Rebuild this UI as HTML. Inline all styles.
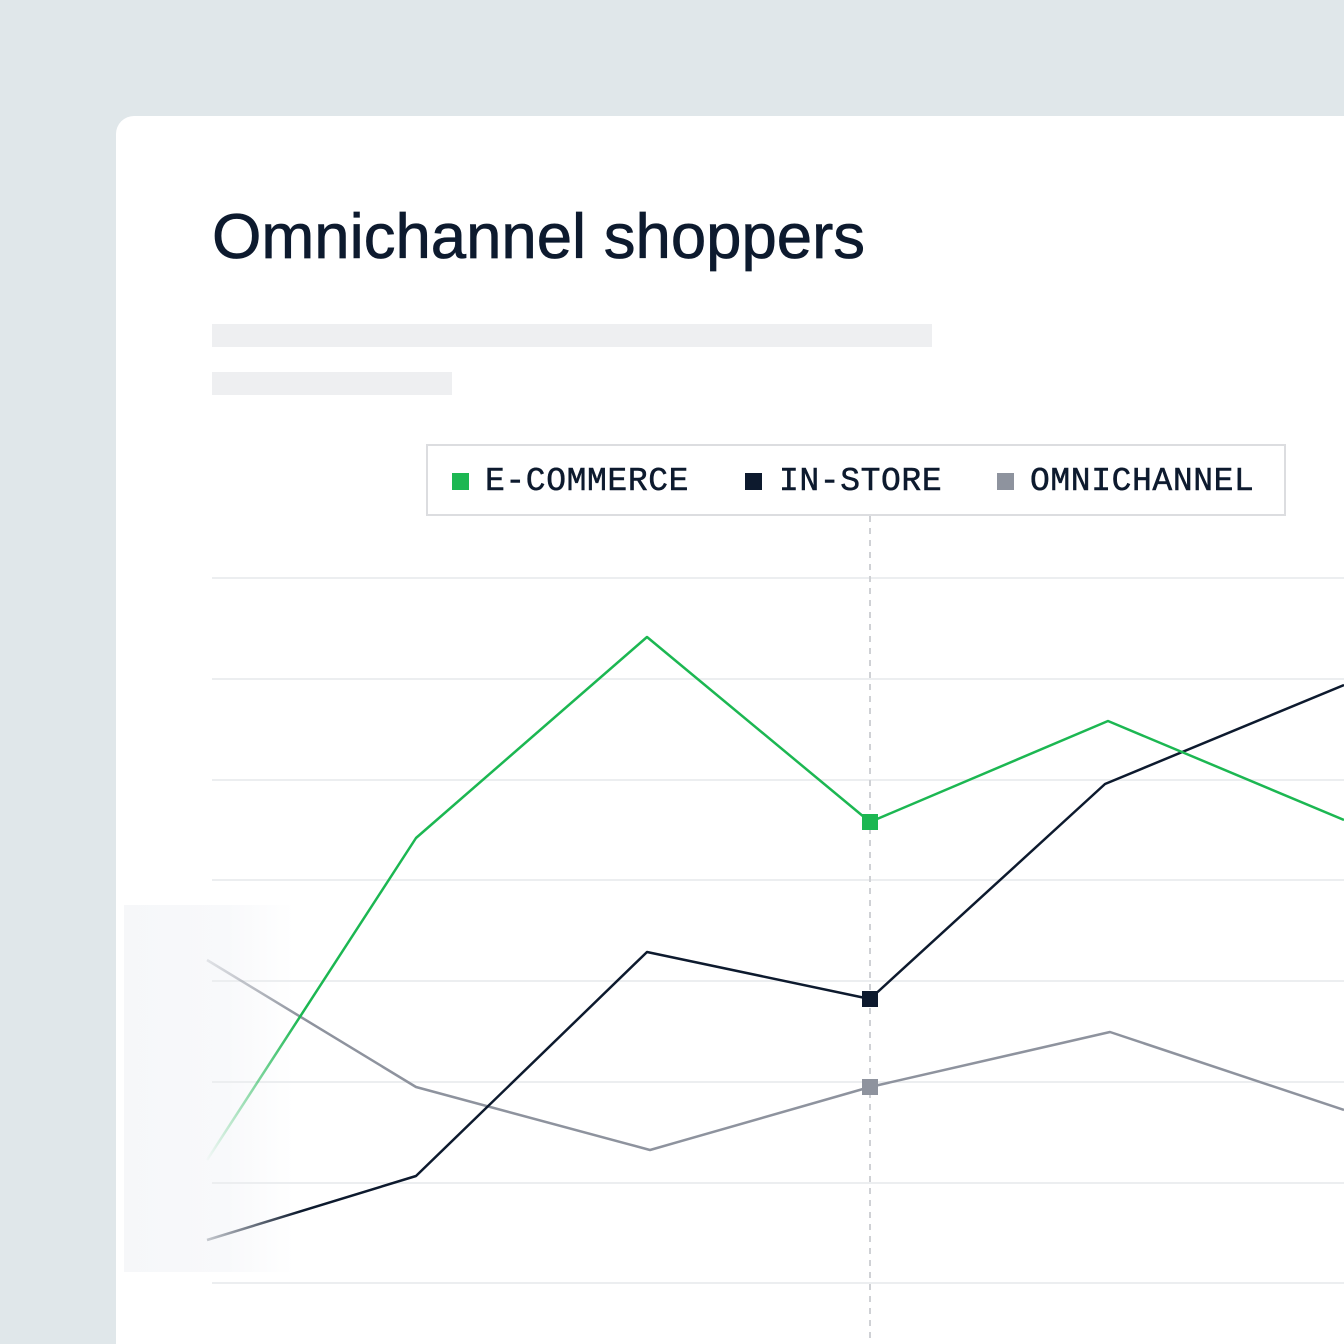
<!DOCTYPE html>
<html><head><style>
html,body{margin:0;padding:0;width:1344px;height:1344px;overflow:hidden;background:#e0e7ea;font-family:"Liberation Sans",sans-serif;position:relative}
.card{position:absolute;left:116px;top:116px;width:1228px;height:1228px;background:#fff;border-radius:18px 0 0 0}
h1{position:absolute;left:212px;top:201px;margin:0;font-size:63.5px;font-weight:normal;color:#0d1a2e;letter-spacing:0px;-webkit-text-stroke:0.7px #0d1a2e;white-space:nowrap}
.bar{position:absolute;background:#eeeff1}
.legend{position:absolute;left:426px;top:444px;width:860px;height:72px;border:2px solid #dcdde0;background:#fff;box-sizing:border-box;font-family:"Liberation Mono",monospace;font-size:33px;letter-spacing:0.6px;color:#0d1a2e;-webkit-text-stroke:0.5px #0d1a2e}
.legend span{position:absolute;top:17px}
.sq{position:absolute;top:27px;width:17px;height:17px}
</style></head><body>
<div class="card"></div>
<div style="position:absolute;left:124px;top:905px;width:170px;height:367px;background:linear-gradient(90deg,#f6f7f9 0%,#f8f9fb 60%,#fff 100%)"></div>
<h1>Omnichannel shoppers</h1>
<div class="bar" style="left:212px;top:324px;width:720px;height:23px"></div>
<div class="bar" style="left:212px;top:372px;width:240px;height:23px"></div>
<svg width="1344" height="1344" style="position:absolute;left:0;top:0">
<defs>
<linearGradient id="fg" gradientUnits="userSpaceOnUse" x1="205" y1="0" x2="300" y2="0"><stop offset="0" stop-color="#1cb752" stop-opacity="0"/><stop offset="1" stop-color="#1cb752"/></linearGradient>
<linearGradient id="fn" gradientUnits="userSpaceOnUse" x1="205" y1="0" x2="300" y2="0"><stop offset="0" stop-color="#0d1a2e" stop-opacity="0.2"/><stop offset="1" stop-color="#0d1a2e"/></linearGradient>
<linearGradient id="fy" gradientUnits="userSpaceOnUse" x1="205" y1="0" x2="300" y2="0"><stop offset="0" stop-color="#8e939e" stop-opacity="0.2"/><stop offset="1" stop-color="#8e939e"/></linearGradient>
</defs>
<g stroke="#eceef0" stroke-width="2">
<line x1="212" y1="578" x2="1344" y2="578"/><line x1="212" y1="679" x2="1344" y2="679"/>
<line x1="212" y1="780" x2="1344" y2="780"/><line x1="212" y1="880" x2="1344" y2="880"/>
<line x1="212" y1="981" x2="1344" y2="981"/><line x1="212" y1="1082" x2="1344" y2="1082"/>
<line x1="212" y1="1183" x2="1344" y2="1183"/><line x1="212" y1="1283" x2="1344" y2="1283"/>
</g>
<line x1="870" y1="516" x2="870" y2="1344" stroke="#cfd1d5" stroke-width="2" stroke-dasharray="6,6"/>
<g fill="none" stroke-width="2.5" stroke-linejoin="round">
<polyline stroke="url(#fy)" points="207,960 416,1087 650,1150 870,1087 1110,1032 1344,1110"/>
<polyline stroke="url(#fn)" points="207,1240 416,1176 647,952 870,999 1105,784 1344,685"/>
<polyline stroke="url(#fg)" points="207,1160 416,838 647,637 870,822 1108,721 1344,820"/>
</g>
<rect x="862" y="814" width="16" height="16" fill="#1cb752"/>
<rect x="862" y="991" width="16" height="16" fill="#0d1a2e"/>
<rect x="862" y="1079" width="16" height="16" fill="#8e939e"/>
</svg>
<div class="legend">
<div class="sq" style="left:24px;background:#1cb752"></div><span style="left:57px">E-COMMERCE</span>
<div class="sq" style="left:317px;background:#0d1a2e"></div><span style="left:351px">IN-STORE</span>
<div class="sq" style="left:569px;background:#8e939e"></div><span style="left:602px">OMNICHANNEL</span>
</div>
</body></html>
